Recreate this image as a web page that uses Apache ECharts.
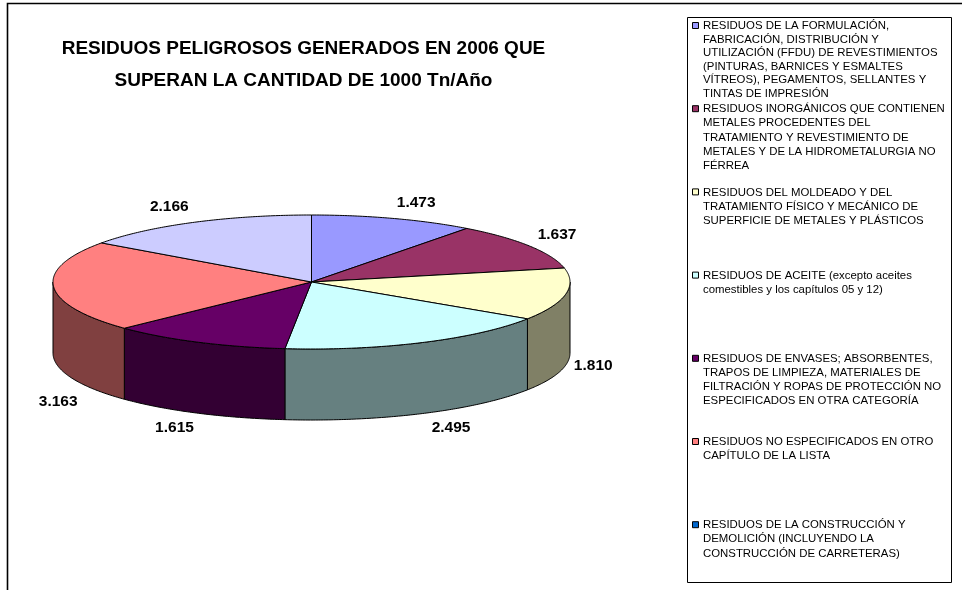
<!DOCTYPE html>
<html>
<head>
<meta charset="utf-8">
<style>html,body{margin:0;padding:0;background:#fff}#c{width:962px;height:590px}</style>
<script src="https://cdn.jsdelivr.net/npm/echarts@6/dist/echarts.min.js"></script>
</head>
<body>
<div id="c"></div>
<script>
const titleText = 'RESIDUOS PELIGROSOS GENERADOS EN 2006 QUE\nSUPERAN LA CANTIDAD DE 1000 Tn/Año';
const values = [1473, 1637, 1810, 2495, 1615, 3163, 2166];
const valueLabels = ['1.473', '1.637', '1.810', '2.495', '1.615', '3.163', '2.166'];
const sliceColors = ['#9999FF', '#993366', '#FFFFCC', '#CCFFFF', '#660066', '#FF8080', '#CCCCFF'];
const legendColors = ['#9999FF', '#993366', '#FFFFCC', '#CCFFFF', '#660066', '#FF8080', '#0066CC'];
const legendNames = [
  'RESIDUOS DE LA FORMULACIÓN,\nFABRICACIÓN, DISTRIBUCIÓN Y\nUTILIZACIÓN (FFDU) DE REVESTIMIENTOS\n(PINTURAS, BARNICES Y ESMALTES\nVÍTREOS), PEGAMENTOS, SELLANTES Y\nTINTAS DE IMPRESIÓN',
  'RESIDUOS INORGÁNICOS QUE CONTIENEN\nMETALES PROCEDENTES DEL\nTRATAMIENTO Y REVESTIMIENTO DE\nMETALES Y DE LA HIDROMETALURGIA NO\nFÉRREA',
  'RESIDUOS DEL MOLDEADO Y DEL\nTRATAMIENTO FÍSICO Y MECÁNICO DE\nSUPERFICIE DE METALES Y PLÁSTICOS',
  'RESIDUOS DE ACEITE (excepto aceites\ncomestibles y los capítulos 05 y 12)',
  'RESIDUOS DE ENVASES; ABSORBENTES,\nTRAPOS DE LIMPIEZA, MATERIALES DE\nFILTRACIÓN Y ROPAS DE PROTECCIÓN NO\nESPECIFICADOS EN OTRA CATEGORÍA',
  'RESIDUOS NO ESPECIFICADOS EN OTRO\nCAPÍTULO DE LA LISTA',
  'RESIDUOS DE LA CONSTRUCCIÓN Y\nDEMOLICIÓN (INCLUYENDO LA\nCONSTRUCCIÓN DE CARRETERAS)'
];

// layout (axis units: the pie's top ellipse spans -1..1 on both axes)
const depth = 1.06;
const labelAnchors = [[0.405,1.19],[0.95,0.70],[1.09,-1.25],[0.54,-2.18],[-0.53,-2.18],[-0.98,-1.79],[-0.55,1.12]];
const total = values.reduce((a, b) => a + b, 0);
const starts = [];
values.reduce((acc, v, i) => { starts[i] = acc / total * 2 * Math.PI; return acc + v; }, 0);
const ends = values.map((v, i) => starts[i] + v / total * 2 * Math.PI);
const rimPoint = (a, drop) => [Math.sin(a), Math.cos(a) - (drop || 0)];
const arcPoints = (a0, a1, drop) => {
  const n = Math.max(2, Math.ceil((a1 - a0) / 0.01));
  const out = [];
  for (let k = 0; k <= n; k++) out.push(rimPoint(a0 + (a1 - a0) * k / n, drop));
  return out;
};
const halfShade = hex => '#' + [1, 3, 5].map(i =>
  Math.round(parseInt(hex.substr(i, 2), 16) / 2).toString(16).padStart(2, '0')).join('');

const topFace = (params, api) => {
  const i = params.dataIndex;
  const pts = [[0, 0]].concat(arcPoints(starts[i], ends[i])).map(p => api.coord(p));
  return { type: 'polygon', shape: { points: pts },
    style: { fill: sliceColors[i], stroke: '#000', lineWidth: 1, lineJoin: 'round' } };
};
const wallFace = (params, api) => {
  const i = params.dataIndex;
  const a0 = Math.max(starts[i], Math.PI / 2), a1 = Math.min(ends[i], 3 * Math.PI / 2);
  if (a1 <= a0) return null;
  const pts = arcPoints(a0, a1, 0).concat(arcPoints(a0, a1, depth).reverse()).map(p => api.coord(p));
  return { type: 'polygon', shape: { points: pts },
    style: { fill: halfShade(sliceColors[i]), stroke: '#000', lineWidth: 1, lineJoin: 'round' } };
};
const valueText = (params, api) => {
  const i = params.dataIndex;
  const p = api.coord(labelAnchors[i]);
  return { type: 'text', x: p[0], y: p[1],
    style: { text: valueLabels[i], fill: '#000', fontFamily: '"Liberation Sans", Arial, sans-serif',
      fontWeight: 'bold', fontSize: 15.5, align: 'center', verticalAlign: 'middle' } };
};

const legendLeft = 703, legendTop = 20, legendStep = 83.2;
const legendLineHeights = [13.6, 14.1, 14.1, 14.1, 14.1, 14.1, 14.1];
const legendGraphics = [
  { type: 'polyline', shape: { points: [[7.5, 590], [7.5, 3.5], [962, 3.5]] }, style: { fill: 'none', stroke: '#000', lineWidth: 1.6 } },
  { type: 'rect', shape: { x: 687.5, y: 17.5, width: 264, height: 565 }, style: { fill: '#fff', stroke: '#000', lineWidth: 1 } }
];
legendNames.forEach((name, i) => {
  const y = legendTop + legendStep * i;
  legendGraphics.push({ type: 'rect', shape: { x: 692.5, y: y + 2.5, width: 6, height: 6 },
    style: { fill: legendColors[i], stroke: '#000', lineWidth: 1 } });
  legendGraphics.push({ type: 'text', x: legendLeft, y: y - 1,
    style: { text: name, fill: '#000', fontFamily: '"Liberation Sans", Arial, sans-serif', fontSize: 11.4, lineHeight: legendLineHeights[i], align: 'left', verticalAlign: 'top' } });
});

const chart = echarts.init(document.getElementById('c'), null, { renderer: 'canvas' });
chart.setOption({
  animation: false,
  backgroundColor: '#fff',
  title: { text: titleText, left: 298.5, top: 28, textAlign: 'center',
    textStyle: { fontFamily: '"Liberation Sans", Arial, sans-serif', fontWeight: 'bold', fontSize: 19, lineHeight: 32, color: '#000' } },
  grid: { left: 53, width: 517, top: 215, height: 134 },
  xAxis: { type: 'value', min: -1, max: 1, show: false },
  yAxis: { type: 'value', min: -1, max: 1, show: false },
  tooltip: { show: false },
  graphic: legendGraphics,
  series: [
    { type: 'custom', name: 'paredes', z: 2, clip: false, renderItem: wallFace, data: values, silent: true },
    { type: 'custom', name: 'residuos', z: 3, clip: false, renderItem: topFace, data: values, silent: true },
    { type: 'custom', name: 'etiquetas', z: 4, clip: false, renderItem: valueText, data: values, silent: true }
  ]
});
</script>
</body>
</html>
